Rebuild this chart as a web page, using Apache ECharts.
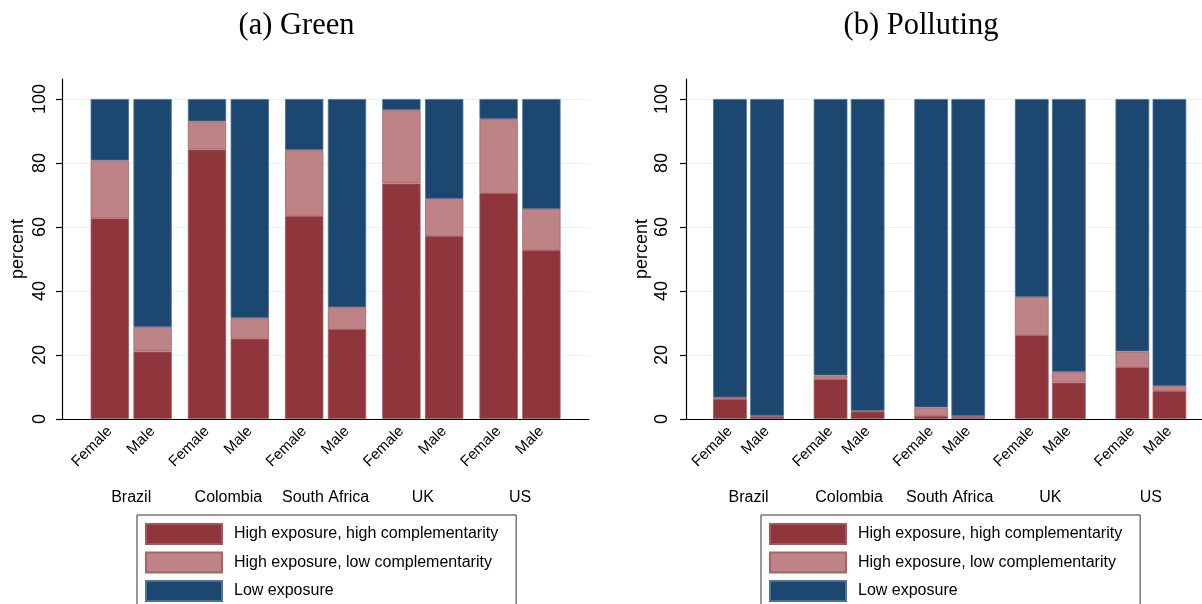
<!DOCTYPE html>
<html>
<head>
<meta charset="utf-8">
<script src="https://cdn.jsdelivr.net/npm/echarts@6/dist/echarts.min.js"></script>
<style>
html,body{margin:0;padding:0;background:#fff;}
#chart{width:1202px;height:604px;}
</style>
</head>
<body>
<div id="chart"></div>
<script>
// ---------------- DATA ----------------
const countries = ['Brazil', 'Colombia', 'South Africa', 'UK', 'US'];
const genders = ['Female', 'Male'];
const seriesNames = ['High exposure, high complementarity', 'High exposure, low complementarity', 'Low exposure'];
const panelTitles = ['(a) Green', '(b) Polluting'];
const yAxisTitle = 'percent';

// (a) Green
const greenFemaleHighHigh = [62.7, 84.2, 63.5, 73.6, 70.7];
const greenFemaleHighLow  = [18.1,  8.8, 20.5, 22.9, 23.0];
const greenFemaleLow      = [19.2,  7.0, 16.0,  3.5,  6.3];
const greenMaleHighHigh   = [21.1, 25.1, 28.2, 57.2, 52.8];
const greenMaleHighLow    = [ 7.6,  6.4,  6.7, 11.6, 12.8];
const greenMaleLow        = [71.3, 68.5, 65.1, 31.2, 34.4];

// (b) Polluting
const pollFemaleHighHigh  = [ 6.3, 12.5,  1.0, 26.2, 16.2];
const pollFemaleHighLow   = [ 0.4,  1.1,  2.6, 11.9,  4.9];
const pollFemaleLow       = [93.3, 86.4, 96.4, 61.9, 78.9];
const pollMaleHighHigh    = [ 0.8,  2.3,  0.7, 11.4,  8.8];
const pollMaleHighLow     = [ 0.2,  0.2,  0.2,  3.3,  1.5];
const pollMaleLow         = [99.0, 97.5, 99.1, 85.3, 89.7];

const panelData = [
  [[greenFemaleHighHigh, greenFemaleHighLow, greenFemaleLow], [greenMaleHighHigh, greenMaleHighLow, greenMaleLow]],
  [[pollFemaleHighHigh, pollFemaleHighLow, pollFemaleLow], [pollMaleHighHigh, pollMaleHighLow, pollMaleLow]]
];

// ---------------- STYLE / LAYOUT ----------------
const colors = ['#8F353C', '#BD8387', '#1B4770'];
const borders = ['#A5575D', '#AA6267', '#4C7194'];
const layout = [
  { titleCenter: 296.5, frameLeft: 62, frameWidth: 527, barLeft: 82.6, barWidth: 486, bw: 38.3, gap: '11.75%', labelMargin: 13, legendLeft: 137 },
  { titleCenter: 921, frameLeft: 686, frameWidth: 516, barLeft: 698.2, barWidth: 503, bw: 33.7, gap: '10%', labelMargin: 15, legendLeft: 761 }
];
const plotTop = 99, plotHeight = 320, axisTop = 79;
const sansFont = '"Liberation Sans", Arial, Helvetica, sans-serif';
const serifFont = '"Liberation Serif", "Times New Roman", serif';
const titleSize = 30.5;

function textWidth(text, font) {
  const ctx = document.createElement('canvas').getContext('2d');
  ctx.font = font;
  return ctx.measureText(text).width;
}

const grid = [], xAxis = [], yAxis = [], series = [], title = [], legend = [];

layout.forEach((L, p) => {
  const g0 = grid.length;
  // frame grid (labels, split lines, x axis line)
  grid.push({ left: L.frameLeft, top: plotTop, width: L.frameWidth, height: plotHeight, containLabel: false });
  // tall grid (y axis line extending above 100, axis title)
  grid.push({ left: L.frameLeft, top: axisTop, width: L.frameWidth, height: plotHeight + plotTop - axisTop, containLabel: false });
  // bar grid
  grid.push({ left: L.barLeft, top: plotTop, width: L.barWidth, height: plotHeight, containLabel: false });

  // frame axes
  xAxis.push({ gridIndex: g0, type: 'value', min: 0, max: 1,
    axisLine: { show: true, lineStyle: { color: '#000', width: 1.2 } },
    axisTick: { show: false }, axisLabel: { show: false }, splitLine: { show: false } });
  yAxis.push({ gridIndex: g0, type: 'value', min: 0, max: 100, interval: 20,
    axisLine: { show: false },
    axisTick: { show: true, inside: false, length: 6, lineStyle: { color: '#000', width: 1.2 } },
    axisLabel: { show: true, rotate: 90, margin: L.labelMargin, color: '#000', fontSize: 18, fontFamily: sansFont },
    splitLine: { show: true, lineStyle: { color: '#EAF2F3', width: 1.2 } } });
  // tall axes
  xAxis.push({ gridIndex: g0 + 1, type: 'value', min: 0, max: 1, show: false });
  yAxis.push({ gridIndex: g0 + 1, type: 'value', min: 0, max: 1,
    axisLine: { show: true, lineStyle: { color: '#000', width: 1.2 } },
    axisTick: { show: false }, axisLabel: { show: false }, splitLine: { show: false },
    name: yAxisTitle, nameLocation: 'middle', nameGap: 35, nameRotate: 90,
    nameTextStyle: { color: '#000', fontSize: 18, fontFamily: sansFont } });
  // bar axes
  const xi = xAxis.length, yi = yAxis.length;
  xAxis.push({ gridIndex: g0 + 2, type: 'category', data: countries,
    axisLine: { show: false }, axisTick: { show: false }, splitLine: { show: false },
    axisLabel: { show: true, margin: 71, color: '#000', fontSize: 16, fontFamily: sansFont, interval: 0 } });
  yAxis.push({ gridIndex: g0 + 2, type: 'value', min: 0, max: 100, show: false });

  genders.forEach((gName, gi) => {
    panelData[p][gi].forEach((vals, si) => {
      const s = {
        type: 'bar', name: seriesNames[si], xAxisIndex: xi, yAxisIndex: yi,
        stack: 'p' + p + gName, data: vals,
        barWidth: L.bw, barGap: L.gap,
        itemStyle: { color: colors[si], borderColor: borders[si], borderWidth: 0.8 },
        emphasis: { disabled: true },
        animation: false
      };
      if (si === 0) {
        s.label = { show: true, position: 'bottom', distance: 10, rotate: 45,
          align: 'right', verticalAlign: 'middle', formatter: gName,
          color: '#000', fontSize: 15, fontFamily: sansFont };
      }
      series.push(s);
    });
  });

  const tFont = titleSize + 'px ' + serifFont;
  const w = textWidth(panelTitles[p], tFont);
  title.push({ text: panelTitles[p], left: L.titleCenter - w / 2, top: 10, padding: 0,
    textStyle: { color: '#000', fontWeight: 'normal', fontSize: titleSize, fontFamily: serifFont } });

  legend.push({ data: seriesNames, orient: 'vertical', left: L.legendLeft, top: 515, height: 120,
    itemWidth: 76, itemHeight: 20, itemGap: 6.5, padding: [8, 18, 8, 8],
    borderColor: '#333', borderWidth: 1, icon: 'rect', selectedMode: false,
    textStyle: { color: '#000', fontSize: 16, fontFamily: sansFont, padding: [0, 0, 0, 7] } });
});

const chart = echarts.init(document.getElementById('chart'), null, { renderer: 'canvas' });
chart.setOption({
  backgroundColor: '#fff',
  animation: false,
  title, legend, grid, xAxis, yAxis, series
});
</script>
</body>
</html>
